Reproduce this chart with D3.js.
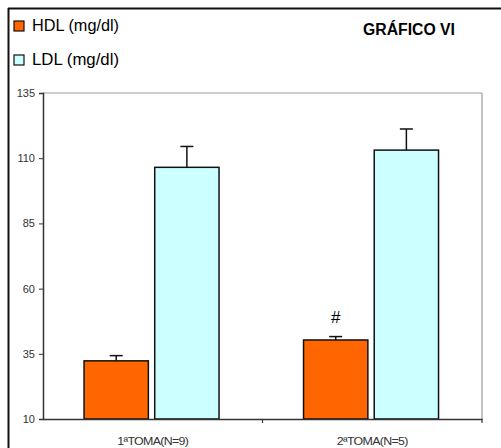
<!DOCTYPE html>
<html><head><meta charset="utf-8">
<script src="https://cdn.jsdelivr.net/npm/d3@7"></script>
<style>body{margin:0;background:#fff}svg{display:block}text{font-family:"Liberation Sans",Arial,sans-serif}</style>
</head><body><svg id="c" width="501" height="448"></svg>
<script>
const categories = ["1ªTOMA(N=9)", "2ªTOMA(N=5)"];
const seriesNames = ["HDL (mg/dl)", "LDL (mg/dl)"];
const seriesColors = ["#FF6600", "#CCFFFF"];
const hdlValues = [32.3, 40.3];
const hdlErrors = [2.0, 1.3];
const ldlValues = [106.5, 113.1];
const ldlErrors = [8.0, 8.1];
const yTicks = [10, 35, 60, 85, 110, 135];
const marks = ["", "#"]; // significance mark on HDL bars

const svg = d3.select("#c");
const L = 43, R = 482, T = 93, B = 419;

// outer frame
svg.append("line").attr("x1",8).attr("x2",501).attr("y1",8.5).attr("y2",8.5).attr("stroke","#111").attr("stroke-width",2);
svg.append("line").attr("x1",8.5).attr("x2",8.5).attr("y1",8).attr("y2",448).attr("stroke","#111").attr("stroke-width",2);

const y = d3.scaleLinear().domain([10,135]).range([B,T]);
const x0 = d3.scaleBand().domain(categories).range([L,R]).padding(0);
const bw = x0.bandwidth();
const x1 = d3.scaleBand().domain(seriesNames).range([bw*0.187, bw*0.802]).paddingInner(0.09).paddingOuter(0);

// plot frame (top + right gray)
svg.append("line").attr("x1",L).attr("x2",R).attr("y1",T).attr("y2",T).attr("stroke","#999").attr("stroke-width",1.2);
svg.append("line").attr("x1",R).attr("x2",R).attr("y1",T).attr("y2",B).attr("stroke","#999").attr("stroke-width",1.2);

const data = categories.map((c,i)=>({cat:c, vals:[
  {s:seriesNames[0], v:hdlValues[i], e:hdlErrors[i], color:seriesColors[0], mark:marks[i]},
  {s:seriesNames[1], v:ldlValues[i], e:ldlErrors[i], color:seriesColors[1], mark:""}]}));

const g = svg.selectAll("g.grp").data(data).enter().append("g").attr("class","grp")
  .attr("transform", d=>`translate(${x0(d.cat)},0)`);
const b = g.selectAll("g.bar").data(d=>d.vals).enter().append("g").attr("class","bar");
// error bars (upper only)
b.append("line").attr("x1",d=>x1(d.s)+x1.bandwidth()/2).attr("x2",d=>x1(d.s)+x1.bandwidth()/2)
  .attr("y1",d=>y(d.v)).attr("y2",d=>y(d.v+d.e)).attr("stroke","#111").attr("stroke-width",1.5);
b.append("line").attr("x1",d=>x1(d.s)+x1.bandwidth()/2-6.5).attr("x2",d=>x1(d.s)+x1.bandwidth()/2+6.5)
  .attr("y1",d=>y(d.v+d.e)).attr("y2",d=>y(d.v+d.e)).attr("stroke","#111").attr("stroke-width",1.5);
b.append("rect").attr("x",d=>x1(d.s)).attr("width",x1.bandwidth())
  .attr("y",d=>y(d.v)).attr("height",d=>B-y(d.v))
  .attr("fill",d=>d.color).attr("stroke","#111").attr("stroke-width",1.5);
b.append("text").attr("x",d=>x1(d.s)+x1.bandwidth()/2).attr("y",d=>y(d.v+d.e)-14)
  .attr("text-anchor","middle").attr("font-size",17).attr("fill","#000").text(d=>d.mark);

// y axis
const yAx = svg.append("g").attr("transform",`translate(${L},0)`)
  .call(d3.axisLeft(y).tickValues(yTicks).tickSize(4).tickPadding(4));
yAx.select(".domain").attr("stroke","#333").attr("stroke-width",1.5);
yAx.selectAll(".tick line").attr("stroke","#333");
yAx.selectAll("text").attr("font-size",11).attr("fill","#333").attr("font-family","Liberation Sans, Arial, sans-serif");

// x axis
const xAx = svg.append("g").attr("transform",`translate(0,${B})`)
  .call(d3.axisBottom(x0).tickSize(0).tickPadding(18));
xAx.select(".domain").attr("stroke","#333").attr("stroke-width",1.5);
xAx.selectAll("text").attr("font-size",11).attr("fill","#333").attr("letter-spacing","-0.6")
  .attr("textLength",71).attr("lengthAdjust","spacingAndGlyphs").attr("font-family","Liberation Sans, Arial, sans-serif");
// boundary ticks between categories
const bounds = categories.slice(1).map(c=>x0(c)).concat([R]);
svg.selectAll("line.bt").data(bounds).enter().append("line").attr("class","bt")
  .attr("x1",d=>d).attr("x2",d=>d).attr("y1",B).attr("y2",B+4).attr("stroke","#333").attr("stroke-width",1.2);

// legend
const lg = svg.selectAll("g.lg").data(seriesNames).enter().append("g").attr("class","lg")
  .attr("transform",(d,i)=>`translate(14,${21+i*34})`);
lg.append("rect").attr("width",10).attr("height",10).attr("fill",(d,i)=>seriesColors[i]).attr("stroke","#111").attr("stroke-width",1.2);
lg.append("text").attr("x",18).attr("y",10).attr("font-size",17).attr("fill","#000")
  .attr("textLength",87).attr("lengthAdjust","spacingAndGlyphs").text(d=>d);

// title
svg.append("text").attr("x",363).attr("y",35).attr("font-size",16).attr("font-weight","bold")
  .attr("textLength",92).attr("lengthAdjust","spacingAndGlyphs").attr("fill","#000").text("GRÁFICO VI");
</script></body></html>
